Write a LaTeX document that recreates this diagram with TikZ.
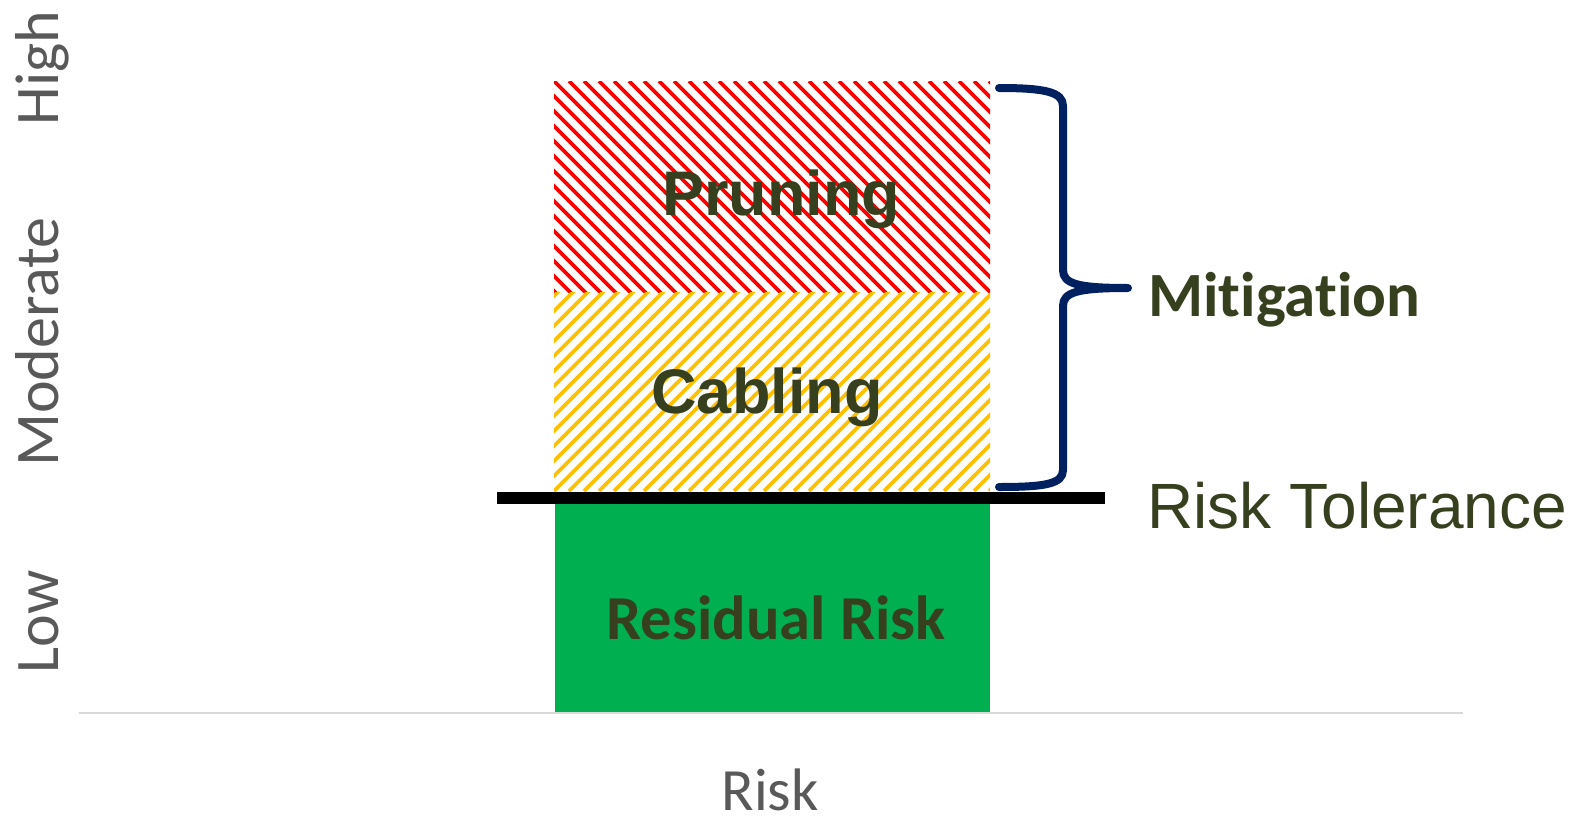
\documentclass[tikz,border=0pt]{standalone}
\usepackage{fontspec}
\setmainfont{Carlito}
\newfontfamily\arialf{Liberation Sans}
\newfontfamily\calf[Ligatures=NoCommon]{Carlito}
\definecolor{txtolive}{RGB}{54,64,30}
\definecolor{axgray}{RGB}{89,89,89}
\definecolor{linegray}{RGB}{217,217,217}
\definecolor{stripered}{RGB}{255,0,0}
\definecolor{stripeyellow}{RGB}{255,192,0}
\definecolor{resgreen}{RGB}{0,176,80}
\definecolor{bracenavy}{RGB}{0,32,96}
\tikzset{
  lbl/.style={inner sep=0pt, anchor=base, text=txtolive},
  axlbl/.style={inner sep=0pt, anchor=base, text=axgray, font=\calf\fontsize{62}{70}\selectfont},
  stripe/.style={line width=3.8pt},
}
\begin{document}
\begin{tikzpicture}[x=1pt,y=-1pt]
\useasboundingbox (0,0) rectangle (1575,822);
% axis line
\draw[linegray, line width=2pt] (79,713) -- (1463,713);
% residual bar
\fill[resgreen] (555,504) rectangle (990,712);
% pruning bar (red stripes down-right)
\begin{scope}
\clip (554,81) rectangle (990,292);
\foreach \i in {-240,-225,...,450} \draw[stripered, stripe] (554+\i,81) -- ++(230,230);
\end{scope}
% cabling bar (yellow stripes up-right)
\begin{scope}
\clip (554,292) rectangle (990,491);
\foreach \i in {-225,-210,...,450} \draw[stripeyellow, stripe] (554+\i,491) -- ++(215,-215);
\end{scope}
% risk tolerance line
\draw[black, line width=12pt] (497,498) -- (1105,498);
% brace
\draw[bracenavy, line width=8pt, line cap=round, line join=round]
  (999,88) .. controls (1045,88) and (1063,92) .. (1063,106) -- (1063,270)
  .. controls (1063,284) and (1078,288) .. (1128,288)
  .. controls (1078,288) and (1063,292) .. (1063,306) -- (1063,470)
  .. controls (1063,484) and (1045,487) .. (999,487);
% labels
\node[lbl, font=\arialf\bfseries\fontsize{63}{70}\selectfont] (pruning) at (781,215) {Pruning};
\node[lbl, font=\arialf\bfseries\fontsize{63}{70}\selectfont] (cabling) at (767,413) {Cabling};
\node[lbl, font=\calf\bfseries\fontsize{62.5}{70}\selectfont] (residual) at (776,639) {Residual Risk};
\node[lbl, anchor=base west, font=\calf\bfseries\fontsize{63}{70}\selectfont] (mitigation) at (1148,316) {Mitigation};
\node[lbl, anchor=base west, font=\arialf\fontsize{64}{70}\selectfont] (tolerance) at (1147,528) {Risk Tolerance};
\node[axlbl, font=\calf\fontsize{60}{70}\selectfont] (risk) at (770,810) {Risk};
\node[axlbl, rotate=90] (high) at (58,68) {High};
\node[axlbl, rotate=90] (moderate) at (58,342) {Moderate};
\node[axlbl, rotate=90] (low) at (58,622) {Low};
\end{tikzpicture}
\end{document}
